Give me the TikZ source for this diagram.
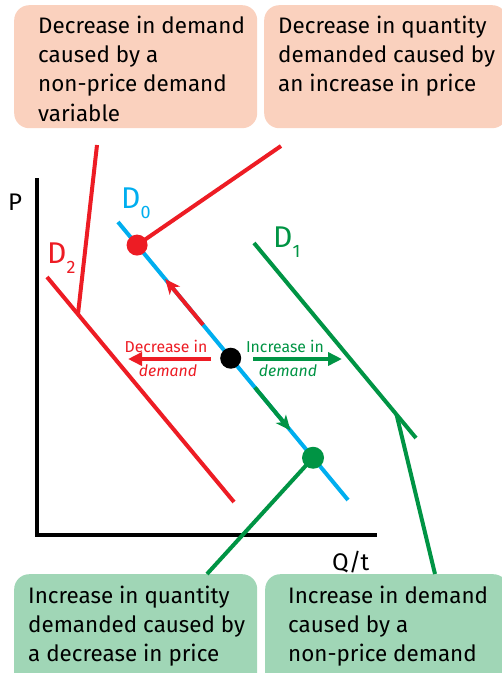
\documentclass[tikz,border=0pt]{standalone}
\usepackage{fontspec}
\setmainfont{Fira Sans}
\usetikzlibrary{arrows.meta,calc}
\definecolor{cred}{HTML}{ED1C24}
\definecolor{cblue}{HTML}{00AEEF}
\definecolor{cgreen}{HTML}{009444}
\definecolor{salmon}{HTML}{FAD1BE}
\definecolor{mint}{HTML}{A0D6B6}
\tikzset{
  boxbase/.style={rounded corners=15pt, minimum width=243pt, minimum height=123pt, anchor=north west, inner sep=0pt, draw=none},
  topbox/.style={boxbase, fill=salmon},
  botbox/.style={boxbase, fill=mint},
  boxtext/.style={anchor=north west, inner sep=0pt, align=left, font=\fontsize{22.4}{29.3}\selectfont},
  curve/.style={line width=4pt},
  dot/.style={circle, inner sep=0pt, minimum size=#1},
  arrlabel/.style={font=\fontsize{15.8}{16}\selectfont, inner sep=0pt, anchor=base},
  bigarrow/.style={line width=4.5pt, -{Triangle[length=14pt,width=13pt]}},
  slantarrow/.style={line width=4pt, -{Stealth[length=15pt,width=13pt,inset=4pt]}},
  dlabel/.style={font=\fontsize{30}{30}\selectfont, inner sep=0pt, anchor=base west},
  axlabel/.style={font=\fontsize{24}{24}\selectfont, inner sep=0pt, anchor=base west}
}
\newcommand{\dsub}[1]{\raisebox{-10pt}{\fontsize{18}{18}\selectfont #1}}
\begin{document}
\begin{tikzpicture}[x=1pt,y=-1pt]
\useasboundingbox (0,0) rectangle (502,673);
\clip (0,0) rectangle (502,673);
% boxes
\node[topbox] (b1) at (14,5) {};
\node[topbox] (b2) at (264,5) {};
\node[botbox] (b3) at (14,574) {};
\node[botbox] (b4) at (265,574) {};
\node[boxtext] (t1) at (38,15.5) {Decrease in demand\\caused by a\\non-price demand\\variable};
\node[boxtext] (t2) at (278,15.5) {Decrease in quantity\\demanded caused by\\an increase in price};
\node[boxtext] (t3) at (28,585.5) {Increase in quantity\\demanded caused by\\a decrease in price};
\node[boxtext] (t4) at (288,585.5) {Increase in demand\\caused by a\\non-price demand};
% axes
\coordinate (ytop) at (37,178);
\coordinate (orig) at (37,535);
\coordinate (xend) at (377,535);
\draw[line width=4pt, line join=miter] (ytop) -- (orig) -- (xend);
\node[axlabel] (P) at (8,210) {P};
\node[axlabel] (Q) at (332,570) {Q/t};
% demand curves
\coordinate (d0a) at (118,222);
\coordinate (d0b) at (348,500);
\coordinate (d1a) at (254,243);
\coordinate (d1b) at (416,438);
\coordinate (d2a) at (47,277);
\coordinate (d2b) at (234,502);
\draw[curve, cblue] (d0a) -- (d0b);
\draw[curve, cgreen] (d1a) -- (d1b);
\draw[curve, cred] (d2a) -- (d2b);
\node[dlabel, text=cblue] (L0) at (121,208) {D\dsub{0}};
\node[dlabel, text=cgreen] (L1) at (273,247) {D\dsub{1}};
\node[dlabel, text=cred] (L2) at (47,263) {D\dsub{2}};
% arrows along D0
\coordinate (ra) at ($(d0a)!0.370!(d0b)$);
\coordinate (rb) at ($(d0a)!0.205!(d0b)$);
\coordinate (ga) at ($(d0a)!0.595!(d0b)$);
\coordinate (gb) at ($(d0a)!0.75!(d0b)$);
\draw[slantarrow, cred] (ra) -- (rb);
\draw[slantarrow, cgreen] (ga) -- (gb);
% connectors
\coordinate (c1) at (97,145);
\coordinate (d2p) at (78,314);
\draw[curve, cred] (d2p) -- (c1);
\node[dot=21pt, fill=cred] (rdot) at ($(d0a)!0.083!(d0b)$) {};
\coordinate (c2) at (281,146);
\draw[curve, cred] (rdot.center) -- (c2);
\node[dot=22pt, fill=cgreen] (gdot) at ($(d0a)!0.848!(d0b)$) {};
\draw[curve, cgreen] (gdot.center) -- (b3.north -| 207,0);
\coordinate (d1p) at ($(d1a)!0.88!(d1b)$);
\draw[curve, cgreen] (d1p) -- (b4.north -| 435,0);
% black dot and horizontal arrows
\node[dot=21pt, fill=black] (bdot) at ($(d0a)!0.49!(d0b)$) {};
\coordinate (rh) at (128,359);
\coordinate (gh) at (342,359);
\draw[bigarrow, cred] ([xshift=-9pt]bdot.west |- 0,359) -- (rh);
\draw[bigarrow, cgreen] ([xshift=12pt]bdot.east |- 0,359) -- (gh);
\node[arrlabel, text=cred] (dl1) at (166,352) {Decrease in};
\node[arrlabel, text=cred] (dl2) at (168,376) {\itshape demand};
\node[arrlabel, text=cgreen] (il1) at (285,352) {Increase in};
\node[arrlabel, text=cgreen] (il2) at (288,376) {\itshape demand};
\end{tikzpicture}
\end{document}
